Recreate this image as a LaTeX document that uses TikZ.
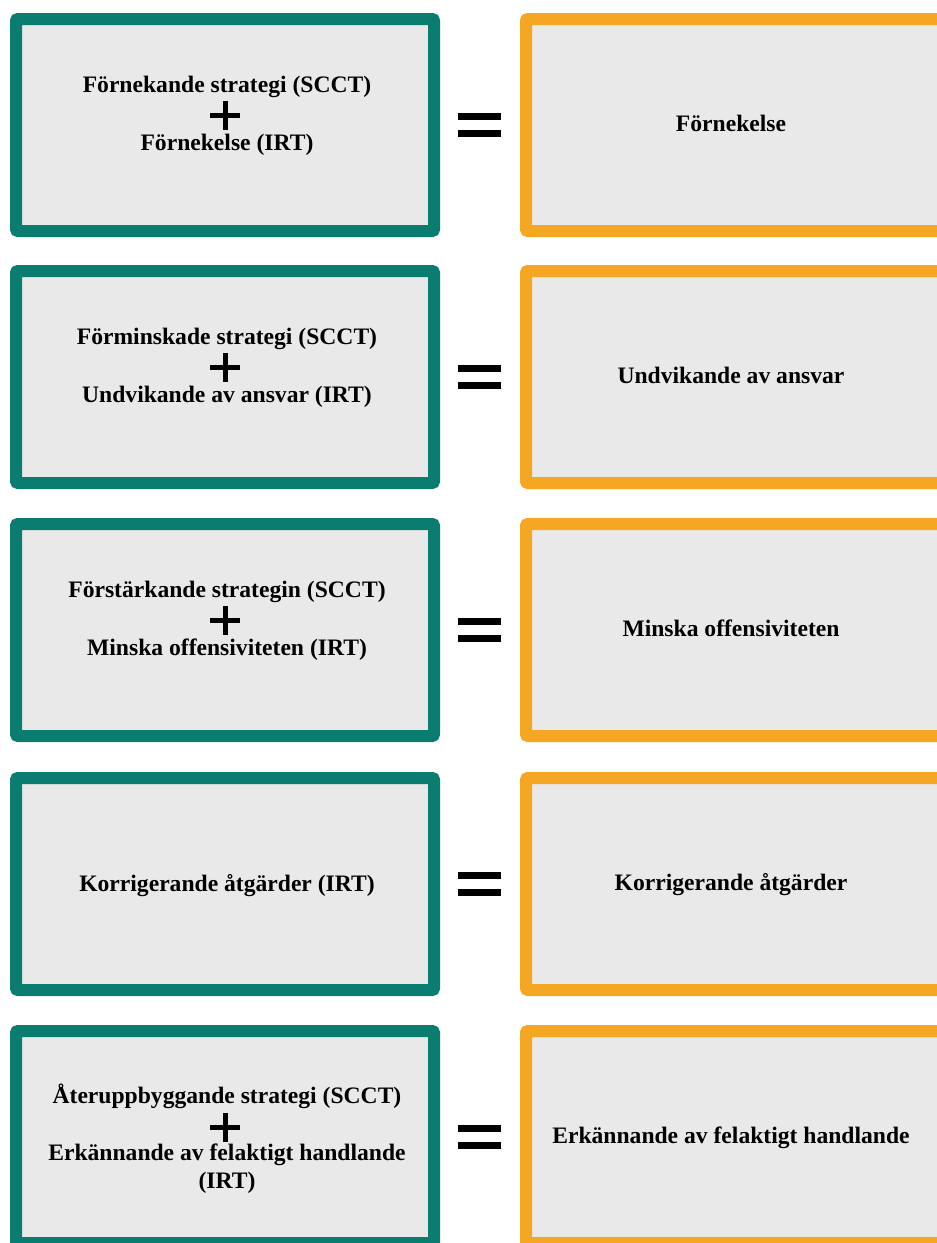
\documentclass[tikz,border=0pt]{standalone}
\usepackage{fontspec}
\setmainfont{Liberation Serif}
\definecolor{tealb}{HTML}{0B7C70}
\definecolor{orangeb}{HTML}{F5A623}
\definecolor{paper}{HTML}{E9E9E9}
\tikzset{
  leftbox/.style={draw=tealb, fill=paper, line width=12pt, rounded corners=2pt, minimum width=418pt, minimum height=212pt, inner sep=0pt},
  rightbox/.style={draw=orangeb, fill=paper, line width=12pt, rounded corners=2pt, minimum width=418pt, minimum height=212pt, inner sep=0pt},
  lbl/.style={font=\fontsize{23.6}{28}\selectfont\bfseries, anchor=base, inner sep=0pt, align=center},
  bar/.style={fill=black, draw=none},
}
\begin{document}
\begin{tikzpicture}[x=1pt,y=-1pt]
\useasboundingbox (0,0) rectangle (937,1243);
\clip (0,0) rectangle (937,1243);
\fill[white] (0,0) rectangle (937,1243);
% rows
\foreach \i/\T in {1/13,2/265,3/518,4/772,5/1025}{
  \node[leftbox] (L\i) at (225,\T+112) {};
  \node[rightbox] (R\i) at (735,\T+112) {};
  \fill[bar] (458,\T+100) rectangle (501,\T+106.5);
  \fill[bar] (458,\T+117) rectangle (501,\T+123.5);
}
% plus signs
\foreach \T in {13,265,518,1025}{
  \fill[bar] (210,\T+99.5) rectangle (240,\T+104.5);
  \fill[bar] (222.5,\T+87.5) rectangle (227.5,\T+116.5);
}
% row 1
\node[lbl] (a1) at (227,13+79) {Förnekande strategi (SCCT)};
\node[lbl] (b1) at (227,13+137) {Förnekelse (IRT)};
\node[lbl] (c1) at (731,13+118) {Förnekelse};
% row 2
\node[lbl] (a2) at (227,265+79) {Förminskade strategi (SCCT)};
\node[lbl] (b2) at (227,265+137) {Undvikande av ansvar (IRT)};
\node[lbl] (c2) at (731,265+118) {Undvikande av ansvar};
% row 3
\node[lbl] (a3) at (227,518+79) {Förstärkande strategin (SCCT)};
\node[lbl] (b3) at (227,518+137) {Minska offensiviteten (IRT)};
\node[lbl] (c3) at (731,518+118) {Minska offensiviteten};
% row 4
\node[lbl] (b4) at (227,772+119) {Korrigerande åtgärder (IRT)};
\node[lbl] (c4) at (731,772+118) {Korrigerande åtgärder};
% row 5
\node[lbl] (a5) at (227,1025+78) {Återuppbyggande strategi (SCCT)};
\node[lbl] (b5) at (227,1025+135) {Erkännande av felaktigt handlande};
\node[lbl] (d5) at (227,1025+163) {(IRT)};
\node[lbl] (c5) at (731,1025+118) {Erkännande av felaktigt handlande};
\end{tikzpicture}
\end{document}
